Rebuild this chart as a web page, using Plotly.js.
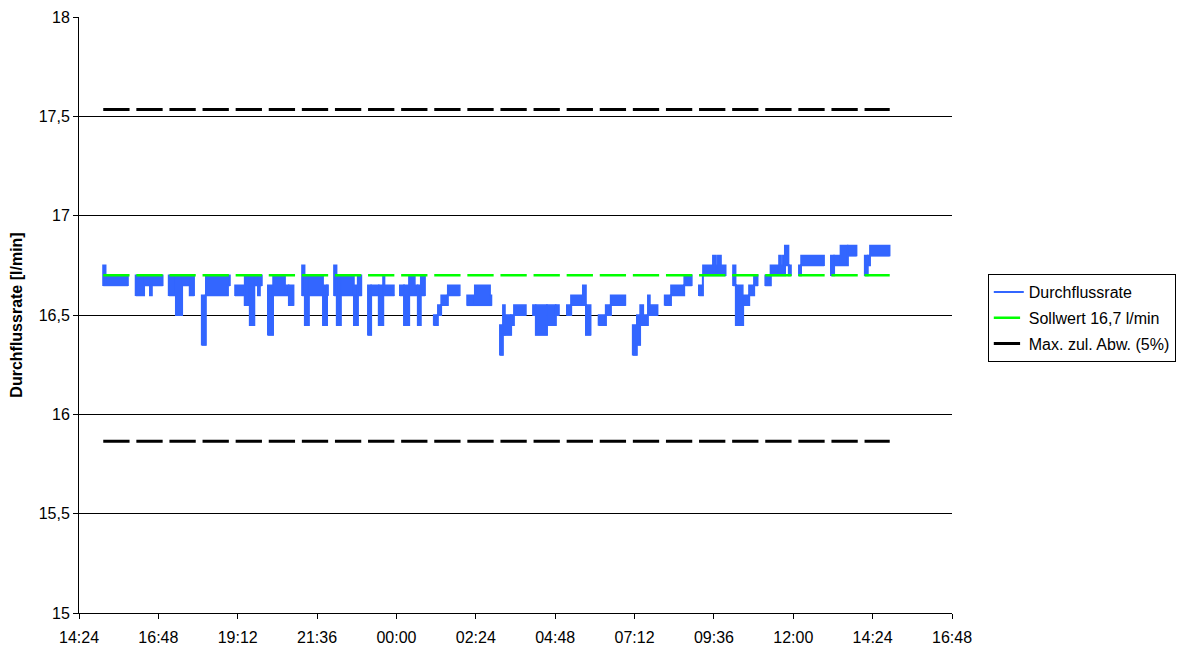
<!DOCTYPE html>
<html>
<head>
<meta charset="utf-8">
<script src="https://cdn.plot.ly/plotly-3.0.1.min.js"></script>
<style>html,body{margin:0;padding:0;background:#fff;}#chart{width:1183px;height:648px;}</style>
</head>
<body>
<div id="chart"></div>
<script>
// ---- data (flow oscillates between low/high within each interval) ----
const tStart = ['15:08','15:13','16:07','16:22','16:33','16:36','17:07','17:20','17:31','17:45',
  '18:07','18:14','18:54','19:07','19:25','19:34','19:42','19:49','19:52','20:07','20:16','20:38','20:45',
  '21:09','21:14','21:21','21:47','21:54','22:07','22:12','22:19','22:43','22:50',
  '23:08','23:14','23:28','23:36','23:39','00:06','00:14','00:23','00:34','00:39','00:44',
  '01:08','01:15','01:21','01:33','02:08','02:22','02:50',
  '03:08','03:13','03:17','03:28','03:33','04:08','04:13','04:33','04:49',
  '05:09','05:17','05:38','05:44','06:07','06:20','06:29',
  '07:09','07:16','07:22','07:28','07:36','07:40','08:07','08:18','08:42',
  '09:09','09:16','09:34','09:40','09:43','09:49','10:11','10:16','10:29','10:40','10:49',
  '11:09','11:19','11:34','11:38','11:41','11:45','11:52','12:10','12:14',
  '13:08','13:14','13:26','13:39','14:10','14:15','14:19'];
const tEnd = ['15:13','15:53','16:22','16:33','16:36','16:56','17:20','17:31','17:45','17:53',
  '18:14','18:54','18:58','19:25','19:34','19:42','19:49','19:52','19:56','20:16','20:38','20:45','20:54',
  '21:14','21:21','21:47','21:54','21:56','22:12','22:19','22:43','22:50','22:57',
  '23:14','23:28','23:36','23:39','23:56','00:14','00:23','00:34','00:39','00:44','00:52',
  '01:15','01:21','01:33','01:55','02:22','02:50','02:53',
  '03:13','03:17','03:28','03:33','03:55','04:13','04:33','04:49','04:55',
  '05:17','05:38','05:44','05:53','06:20','06:29','06:56',
  '07:16','07:22','07:28','07:36','07:40','07:54','08:18','08:42','08:56',
  '09:16','09:34','09:40','09:43','09:49','09:58','10:16','10:29','10:40','10:49','10:56',
  '11:19','11:34','11:38','11:41','11:45','11:52','11:56','12:14','12:56',
  '13:14','13:26','13:39','13:55','14:15','14:19','14:55'];
const flowLow = [16.65,16.65,16.60,16.65,16.60,16.65,16.60,16.50,16.65,16.60,
  16.35,16.60,16.65,16.60,16.55,16.45,16.65,16.60,16.65,16.40,16.60,16.60,16.55,
  16.60,16.45,16.60,16.45,16.60,16.60,16.45,16.60,16.45,16.60,
  16.40,16.60,16.45,16.60,16.60,16.60,16.45,16.60,16.60,16.45,16.60,
  16.45,16.50,16.55,16.60,16.55,16.55,16.55,
  16.30,16.40,16.40,16.45,16.50,16.50,16.40,16.45,16.50,
  16.50,16.55,16.55,16.40,16.45,16.50,16.55,
  16.30,16.35,16.45,16.45,16.50,16.50,16.55,16.60,16.65,
  16.60,16.70,16.70,16.70,16.70,16.70,16.65,16.45,16.55,16.60,16.65,
  16.65,16.70,16.70,16.70,16.70,16.75,16.70,16.70,16.75,
  16.70,16.75,16.75,16.80,16.70,16.75,16.80];
const flowHigh = [16.75,16.70,16.70,16.70,16.70,16.70,16.70,16.70,16.70,16.70,
  16.60,16.70,16.70,16.65,16.70,16.70,16.70,16.70,16.70,16.65,16.70,16.65,16.65,
  16.75,16.70,16.70,16.65,16.65,16.75,16.70,16.70,16.65,16.70,
  16.65,16.65,16.65,16.70,16.65,16.65,16.65,16.70,16.65,16.65,16.70,
  16.50,16.55,16.60,16.65,16.60,16.65,16.60,
  16.45,16.55,16.50,16.50,16.55,16.55,16.55,16.55,16.55,
  16.55,16.60,16.65,16.55,16.50,16.55,16.60,
  16.45,16.50,16.55,16.50,16.60,16.55,16.60,16.65,16.70,
  16.65,16.75,16.80,16.75,16.80,16.75,16.75,16.65,16.60,16.65,16.70,
  16.70,16.75,16.80,16.75,16.80,16.85,16.75,16.75,16.80,
  16.80,16.80,16.85,16.85,16.80,16.80,16.85];
const setpoint = [16.7, 16.7];
const tolUpper = [17.535, 17.535];
const tolLower = [15.865, 15.865];
const yTicks = [15, 15.5, 16, 16.5, 17, 17.5, 18];
const xRange = ['2024-01-01 14:24', '2024-01-02 16:48'];

// ---- helpers: clock strings -> timestamps (day rolls over when time goes back) ----
function toMin(s){ const p = s.split(':'); return (+p[0])*60 + (+p[1]); }
function fmt(ms){ const d = new Date(ms); const z = n => String(n).padStart(2,'0');
  return d.getUTCFullYear()+'-'+z(d.getUTCMonth()+1)+'-'+z(d.getUTCDate())+' '+z(d.getUTCHours())+':'+z(d.getUTCMinutes()); }
const base = Date.UTC(2024,0,1);
let day = 0, prev = -1;
const sMs = [], eMs = [];
for (let i = 0; i < tStart.length; i++) {
  const m = toMin(tStart[i]);
  if (m < prev) day++;
  const me = toMin(tEnd[i]);
  let dEnd = day;
  if (me < m) dEnd++;
  sMs.push(base + (day*1440 + m)*60000);
  eMs.push(base + (dEnd*1440 + me)*60000);
  day = dEnd; prev = me;
}

// oscillation range as bars, trace line through the lower levels
const barX = [], barW = [], barBase = [], barLen = [];
const lineX = [], lineY = [];
for (let i = 0; i < sMs.length; i++) {
  barX.push(fmt((sMs[i] + eMs[i]) / 2));
  barW.push(eMs[i] - sMs[i]);
  barBase.push(flowLow[i]);
  barLen.push(+(flowHigh[i] - flowLow[i]).toFixed(3));
  if (i > 0 && sMs[i] !== eMs[i-1]) { lineX.push(null); lineY.push(null); }
  lineX.push(fmt(sMs[i]), fmt(eMs[i]));
  lineY.push(flowLow[i], flowLow[i]);
}
const lineStart = fmt(sMs[0]), lineEnd = fmt(eMs[eMs.length-1]);
const BLUE = '#3366FF';

const traces = [
  { type: 'bar', x: barX, y: barLen, base: barBase, width: barW, showlegend: false, hoverinfo: 'skip',
    marker: { color: BLUE, line: { color: BLUE, width: 1.5 } } },
  { type: 'scatter', mode: 'lines', name: 'Durchflussrate', x: lineX, y: lineY, connectgaps: false,
    line: { color: BLUE, width: 2 }, legendgroup: 'a' },
  { type: 'scatter', mode: 'lines', name: 'Sollwert 16,7 l/min', x: [lineStart, lineEnd], y: setpoint,
    line: { color: '#00FF00', width: 2.5, dash: '26.3px,6.8px' }, legendgroup: 'b' },
  { type: 'scatter', mode: 'lines', name: 'Max. zul. Abw. (5%)',
    x: [lineStart, lineEnd, null, lineStart, lineEnd], y: [tolUpper[0], tolUpper[1], null, tolLower[0], tolLower[1]],
    connectgaps: false, line: { color: '#000000', width: 3, dash: '26.3px,6.8px' }, legendgroup: 'c' }
];

const FONT = 'Liberation Sans, Arial, sans-serif';
const layout = {
  width: 1183, height: 648,
  margin: { l: 79, r: 231, t: 17, b: 35, pad: 0, autoexpand: false },
  paper_bgcolor: '#fff', plot_bgcolor: '#fff',
  separators: ', ',
  font: { family: FONT, size: 16, color: '#000' },
  barmode: 'overlay', bargap: 0,
  showlegend: true,
  legend: { x: 1.041, y: 0.5688, xanchor: 'left', yanchor: 'top', bgcolor: '#fff',
    bordercolor: '#000', borderwidth: 1, font: { family: FONT, size: 16, color: '#000' },
    tracegroupgap: 2, traceorder: 'grouped' },
  xaxis: { type: 'date', range: xRange, tick0: xRange[0], dtick: 8640000, tickformat: '%H:%M',
    automargin: false, showgrid: false, zeroline: false, showline: true, linecolor: '#000', linewidth: 1,
    ticks: 'outside', ticklen: 5, tickcolor: '#000', ticklabelstandoff: 5,
    tickfont: { family: FONT, size: 16, color: '#000' } },
  yaxis: { range: [15, 18], tickvals: yTicks, showgrid: true, gridcolor: '#000', gridwidth: 1,
    automargin: false, zeroline: false, showline: true, linecolor: '#000', linewidth: 1,
    ticks: 'outside', ticklen: 5, tickcolor: '#000', tickfont: { family: FONT, size: 16, color: '#000' },
    title: { text: '<b>Durchflussrate [l/min]</b>', font: { family: FONT, size: 16, color: '#000' }, standoff: 12 } }
};

Plotly.newPlot('chart', traces, layout, { displayModeBar: false, staticPlot: true });
</script>
</body>
</html>
